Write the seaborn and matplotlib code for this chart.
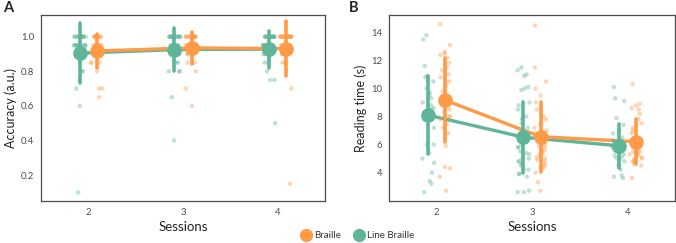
import numpy as np
import pandas as pd
import matplotlib
matplotlib.use('Agg')
import matplotlib.pyplot as plt
from matplotlib.lines import Line2D
import seaborn as sns

sns.set_style('white')
plt.rcParams['font.family'] = ['Lato', 'DejaVu Sans']

SESSIONS = [2, 3, 4]
GROUPS   = ['Line Braille', 'Braille']
PALETTE  = {'Braille': '#FF9A47', 'Line Braille': '#5EB599'}
OFFSET   = {'Line Braille': -0.09, 'Braille': 0.09}
AXCOL    = '#4d4d4d'

# accuracy (a.u.), one value per participant
acc_line_s2 = [1.0, 1.0, 1.0, 1.0, 1.0, 1.0, 1.0, 1.0, 1.0, 1.0, 1.0, 1.0, 1.0,
               0.95, 0.95, 0.95, 0.95, 0.95, 0.95, 0.95, 0.95, 0.95, 0.95, 0.95,
               0.9, 0.9, 0.85, 0.8, 0.8, 0.75, 0.7, 0.6, 0.1]
acc_braille_s2 = [1.0, 1.0, 1.0, 1.0, 1.0, 1.0, 1.0, 1.0, 1.0, 1.0,
                  0.95, 0.95, 0.95, 0.95, 0.95, 0.95, 0.95, 0.95,
                  0.9, 0.9, 0.9, 0.9, 0.85, 0.85, 0.85, 0.8, 0.7, 0.7, 0.65]
acc_line_s3 = [1.0, 1.0, 1.0, 1.0, 1.0, 1.0, 1.0, 1.0, 1.0, 1.0, 1.0, 1.0, 1.0, 1.0, 1.0, 1.0,
               0.95, 0.95, 0.95, 0.95, 0.95, 0.95, 0.95, 0.95,
               0.9, 0.9, 0.9, 0.85, 0.85, 0.8, 0.8, 0.8, 0.65, 0.4]
acc_braille_s3 = [1.0, 1.0, 1.0, 1.0, 1.0, 1.0, 1.0, 1.0, 1.0, 1.0, 1.0, 1.0, 1.0, 1.0,
                  0.95, 0.95, 0.95, 0.95, 0.95, 0.95, 0.95, 0.95,
                  0.9, 0.9, 0.9, 0.9, 0.85, 0.85, 0.8, 0.7, 0.6]
acc_line_s4 = [1.0, 1.0, 1.0, 1.0, 1.0, 1.0, 1.0, 1.0, 1.0, 1.0, 1.0, 1.0, 1.0, 1.0,
               0.95, 0.95, 0.95, 0.95, 0.95, 0.95, 0.95, 0.95,
               0.9, 0.9, 0.9, 0.9, 0.85, 0.85, 0.8, 0.75, 0.75, 0.5]
acc_braille_s4 = [1.0, 1.0, 1.0, 1.0, 1.0, 1.0, 1.0, 1.0, 1.0, 1.0, 1.0, 1.0, 1.0, 1.0, 1.0, 1.0,
                  0.95, 0.95, 0.95, 0.95, 0.95, 0.95, 0.95, 0.95,
                  0.9, 0.9, 0.9, 0.85, 0.85, 0.7, 0.15]

# reading time (s)
rt_line_s2 = [13.5, 13.8, 11.6, 10.9, 10.8, 10.6, 10.5, 10.0, 9.7, 9.5, 9.3, 9.0, 8.8,
              8.6, 8.4, 8.2, 8.0, 8.5, 8.0, 7.8, 7.2, 6.0, 6.0, 5.4, 5.0, 4.7, 4.0,
              3.4, 3.2, 2.6, 8.3, 7.9, 8.1]
rt_braille_s2 = [14.6, 13.1, 12.6, 12.5, 12.4, 12.2, 11.8, 11.5, 11.3, 11.0, 10.8, 10.5,
                 10.2, 9.8, 9.5, 9.2, 8.8, 8.5, 8.3, 8.0, 8.0, 7.8, 7.5, 7.2, 6.8, 5.9,
                 4.4, 4.3, 3.7, 2.7]
rt_line_s3 = [11.5, 11.3, 11.0, 10.9, 10.1, 10.0, 9.9, 9.0, 8.8, 8.5, 8.0, 7.8, 7.5, 7.2,
              6.8, 6.5, 6.2, 6.0, 5.8, 5.5, 5.3, 5.0, 4.8, 4.5, 4.2, 3.9, 3.7, 3.9, 2.7,
              2.6, 2.6, 5.0, 4.6, 5.4, 4.2, 5.8, 4.8, 6.4, 6.6]
rt_braille_s3 = [14.5, 11.5, 10.5, 10.0, 9.5, 9.0, 8.5, 8.0, 7.8, 7.5, 7.2, 7.0, 6.8, 6.5,
                 6.2, 6.0, 5.8, 5.5, 5.3, 5.0, 4.8, 4.5, 4.3, 4.0, 3.3, 2.7, 5.2, 5.6,
                 4.9, 5.4, 5.9, 4.6, 5.1, 4.4]
rt_line_s4 = [10.1, 9.3, 9.1, 7.9, 7.4, 7.0, 6.8, 6.5, 6.3, 6.0, 5.8, 5.5, 5.2, 5.0, 4.8,
              4.5, 4.2, 3.8, 3.7, 3.6, 5.3, 5.6, 4.9, 5.5, 5.1, 5.8, 4.6, 6.1, 5.7, 6.2, 5.9]
rt_braille_s4 = [10.3, 8.9, 8.8, 8.6, 8.5, 8.2, 7.8, 7.5, 7.2, 7.0, 6.8, 6.5, 6.3, 6.0,
                 5.8, 5.5, 5.3, 5.0, 4.8, 4.7, 4.5, 3.6, 5.2, 5.4, 4.8, 5.6, 5.1, 4.9,
                 5.7, 5.5, 4.6, 5.0, 5.3]


def long_df(series, col):
    rows = []
    for (group, session), vals in series.items():
        rows += [{'group': group, 'session': session, col: v} for v in vals]
    df = pd.DataFrame(rows)
    df['xpos'] = df['session'] + df['group'].map(OFFSET)
    return df


acc = long_df({('Line Braille', 2): acc_line_s2, ('Braille', 2): acc_braille_s2,
               ('Line Braille', 3): acc_line_s3, ('Braille', 3): acc_braille_s3,
               ('Line Braille', 4): acc_line_s4, ('Braille', 4): acc_braille_s4}, 'accuracy')
rt = long_df({('Line Braille', 2): rt_line_s2, ('Braille', 2): rt_braille_s2,
              ('Line Braille', 3): rt_line_s3, ('Braille', 3): rt_braille_s3,
              ('Line Braille', 4): rt_line_s4, ('Braille', 4): rt_braille_s4}, 'rt')

np.random.seed(7)  # jitter only

fig = plt.figure(figsize=(6.76, 2.43), dpi=100)
ax_a = fig.add_axes([0.0607, 0.173, 0.420, 0.765])
ax_b = fig.add_axes([0.5754, 0.173, 0.4231, 0.765])


def panel(ax, df, col, ylim, yticks, ylabel):
    sns.stripplot(data=df, x='xpos', y=col, hue='group', hue_order=GROUPS,
                  palette=PALETTE, native_scale=True, jitter=0.36, size=3.2,
                  alpha=0.4, linewidth=0, legend=False, ax=ax)
    # mean lines per group
    sns.lineplot(data=df, x='xpos', y=col, hue='group', hue_order=GROUPS,
                 palette=PALETTE, errorbar=None, linewidth=2.4, legend=False, ax=ax)
    # mean +/- SD
    sns.pointplot(data=df, x='xpos', y=col, hue='group', hue_order=GROUPS,
                  palette=PALETTE, native_scale=True, errorbar='sd', markers='o',
                  markersize=8.5, linestyle='none',
                  err_kws={'linewidth': 2.6, 'linestyle': '-'},
                  legend=False, ax=ax)
    ax.set_xlim(1.5, 4.5)
    ax.set_xticks(SESSIONS)
    ax.set_xticklabels([str(s) for s in SESSIONS])
    ax.set_ylim(*ylim)
    ax.set_yticks(yticks)
    ax.set_xlabel('Sessions', fontsize=9.5, color='#222222', labelpad=3)
    ax.set_ylabel(ylabel, fontsize=9, color='#222222', labelpad=3)
    ax.tick_params(length=3, width=0.8, color=AXCOL, labelsize=6.8,
                   labelcolor=AXCOL, pad=2)
    for s in ax.spines.values():
        s.set_visible(True)
        s.set_color(AXCOL)
        s.set_linewidth(0.9)


panel(ax_a, acc, 'accuracy', (0.05, 1.125), [0.2, 0.4, 0.6, 0.8, 1.0], 'Accuracy (a.u.)')
ax_a.set_yticklabels(['0.2', '0.4', '0.6', '0.8', '1.0'])
panel(ax_b, rt, 'rt', (1.97, 15.24), [4, 6, 8, 10, 12, 14], 'Reading time (s)')

fig.text(0.004, 0.995, 'A', fontsize=10.5, fontweight='bold', va='top', ha='left')
fig.text(0.516, 0.995, 'B', fontsize=10.5, fontweight='bold', va='top', ha='left')

handles = [Line2D([], [], marker='o', ls='', color=PALETTE[g], markersize=8.5, label=g)
           for g in ['Braille', 'Line Braille']]
fig.legend(handles=handles, loc='center', bbox_to_anchor=(0.529, 0.03), ncol=2,
           frameon=False, fontsize=7, handletextpad=0.3, columnspacing=1.4,
           handlelength=1.0, labelcolor='#333333')

fig.savefig('out.png', dpi=100)
